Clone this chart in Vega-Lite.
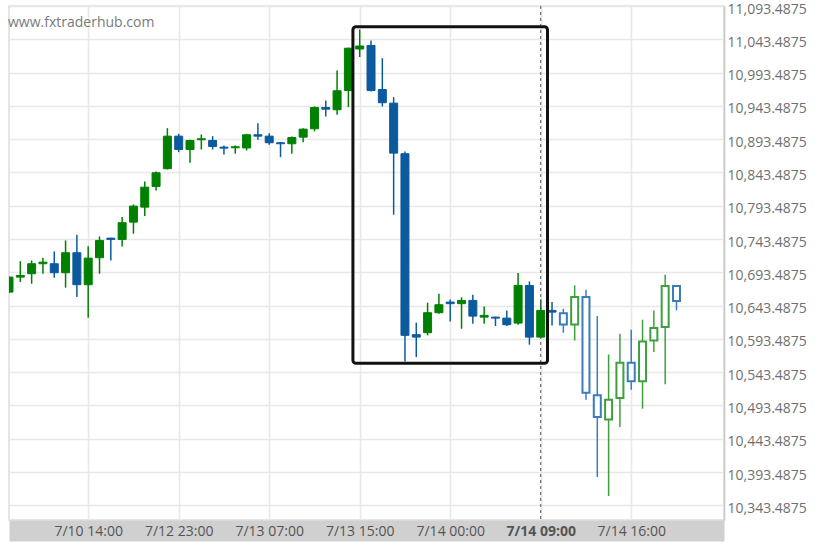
{
  "$schema": "https://vega.github.io/schema/vega-lite/v6.json",
  "width": 715,
  "height": 514,
  "autosize": {"type": "none"},
  "padding": {"left": 9, "top": 6, "right": 98, "bottom": 28},
  "background": "white",
  "title": {"text": "www.fxtraderhub.com", "anchor": "start", "frame": "group", "orient": "top", "offset": -39, "baseline": "alphabetic", "fontSize": 14, "fontWeight": "normal", "font": "Open Sans", "color": "#7a7a7a", "dx": -1},
  "config": {"view": {"stroke": "#dddddd", "strokeWidth": 1.5}},
  "resolve": {"axis": {"x": "independent"}},
  "datasets": {
    "candles": [
      {"i": 0, "o": 10663.8, "h": 10687.3, "l": 10662.6, "c": 10686.3, "k": "uf"},
      {"i": 1, "o": 10686.3, "h": 10710.3, "l": 10678.8, "c": 10688.8, "k": "uf"},
      {"i": 2, "o": 10691.4, "h": 10711.4, "l": 10676.4, "c": 10706.4, "k": "uf"},
      {"i": 3, "o": 10706.4, "h": 10715.4, "l": 10691.4, "c": 10708.8, "k": "uf"},
      {"i": 4, "o": 10706.4, "h": 10724.9, "l": 10685.4, "c": 10692.9, "k": "df"},
      {"i": 5, "o": 10692.9, "h": 10741.4, "l": 10670.4, "c": 10722.9, "k": "uf"},
      {"i": 6, "o": 10722.9, "h": 10749.9, "l": 10656.3, "c": 10674.9, "k": "df"},
      {"i": 7, "o": 10674.9, "h": 10732.8, "l": 10625.3, "c": 10714.8, "k": "uf"},
      {"i": 8, "o": 10715.4, "h": 10747.4, "l": 10691.4, "c": 10741.4, "k": "uf"},
      {"i": 9, "o": 10744.8, "h": 10745.3, "l": 10711.4, "c": 10742.9, "k": "df"},
      {"i": 10, "o": 10742.9, "h": 10776.4, "l": 10732.4, "c": 10768.0, "k": "uf"},
      {"i": 11, "o": 10768.9, "h": 10795.4, "l": 10751.5, "c": 10792.9, "k": "uf"},
      {"i": 12, "o": 10791.4, "h": 10830.0, "l": 10777.9, "c": 10821.4, "k": "uf"},
      {"i": 13, "o": 10822.5, "h": 10845.0, "l": 10816.5, "c": 10843.0, "k": "uf"},
      {"i": 14, "o": 10849.1, "h": 10910.0, "l": 10848.0, "c": 10898.0, "k": "uf"},
      {"i": 15, "o": 10898.0, "h": 10901.6, "l": 10874.0, "c": 10878.0, "k": "df"},
      {"i": 16, "o": 10878.0, "h": 10892.6, "l": 10858.1, "c": 10891.5, "k": "uf"},
      {"i": 17, "o": 10892.6, "h": 10900.6, "l": 10878.0, "c": 10894.1, "k": "uf"},
      {"i": 18, "o": 10891.5, "h": 10898.0, "l": 10878.0, "c": 10882.5, "k": "df"},
      {"i": 19, "o": 10881.5, "h": 10884.0, "l": 10870.5, "c": 10880.0, "k": "df"},
      {"i": 20, "o": 10880.6, "h": 10884.0, "l": 10871.6, "c": 10882.1, "k": "uf"},
      {"i": 21, "o": 10880.3, "h": 10901.6, "l": 10876.5, "c": 10900.1, "k": "uf"},
      {"i": 22, "o": 10900.1, "h": 10917.5, "l": 10892.6, "c": 10898.0, "k": "df"},
      {"i": 23, "o": 10898.0, "h": 10902.5, "l": 10885.1, "c": 10888.1, "k": "df"},
      {"i": 24, "o": 10888.1, "h": 10889.0, "l": 10866.5, "c": 10886.6, "k": "df"},
      {"i": 25, "o": 10886.6, "h": 10897.6, "l": 10871.6, "c": 10896.0, "k": "uf"},
      {"i": 26, "o": 10896.5, "h": 10910.0, "l": 10889.0, "c": 10908.5, "k": "uf"},
      {"i": 27, "o": 10909.1, "h": 10942.6, "l": 10905.1, "c": 10941.1, "k": "uf"},
      {"i": 28, "o": 10941.1, "h": 10951.6, "l": 10927.6, "c": 10938.5, "k": "df"},
      {"i": 29, "o": 10937.6, "h": 10996.7, "l": 10930.1, "c": 10966.2, "k": "uf"},
      {"i": 30, "o": 10966.6, "h": 11031.0, "l": 10941.5, "c": 11030.1, "k": "uf"},
      {"i": 31, "o": 11028.9, "h": 11058.2, "l": 11016.9, "c": 11033.4, "k": "uf"},
      {"i": 32, "o": 11034.2, "h": 11041.7, "l": 10965.1, "c": 10966.6, "k": "df"},
      {"i": 33, "o": 10968.1, "h": 11015.1, "l": 10942.6, "c": 10948.2, "k": "df"},
      {"i": 34, "o": 10947.6, "h": 10956.6, "l": 10780.0, "c": 10872.5, "k": "df"},
      {"i": 35, "o": 10871.6, "h": 10875.0, "l": 10559.7, "c": 10598.8, "k": "df"},
      {"i": 36, "o": 10599.8, "h": 10617.8, "l": 10566.2, "c": 10596.2, "k": "df"},
      {"i": 37, "o": 10602.8, "h": 10647.9, "l": 10598.8, "c": 10632.8, "k": "uf"},
      {"i": 38, "o": 10632.8, "h": 10661.4, "l": 10631.3, "c": 10644.8, "k": "uf"},
      {"i": 39, "o": 10648.8, "h": 10652.8, "l": 10619.8, "c": 10646.4, "k": "df"},
      {"i": 40, "o": 10646.4, "h": 10655.8, "l": 10608.8, "c": 10651.3, "k": "uf"},
      {"i": 41, "o": 10651.3, "h": 10659.9, "l": 10616.3, "c": 10627.7, "k": "df"},
      {"i": 42, "o": 10626.2, "h": 10642.3, "l": 10616.3, "c": 10628.8, "k": "uf"},
      {"i": 43, "o": 10626.2, "h": 10626.7, "l": 10612.7, "c": 10624.7, "k": "df"},
      {"i": 44, "o": 10624.7, "h": 10636.3, "l": 10612.7, "c": 10614.8, "k": "df"},
      {"i": 45, "o": 10617.2, "h": 10692.3, "l": 10614.8, "c": 10673.8, "k": "uf"},
      {"i": 46, "o": 10673.8, "h": 10679.8, "l": 10584.8, "c": 10596.2, "k": "df"},
      {"i": 47, "o": 10596.2, "h": 10652.8, "l": 10595.5, "c": 10636.3, "k": "uf"},
      {"i": 48, "o": 10636.3, "h": 10648.8, "l": 10613.8, "c": 10633.7, "k": "df"},
      {"i": 49, "o": 10632.2, "h": 10638.8, "l": 10602.8, "c": 10615.3, "k": "dh"},
      {"i": 50, "o": 10615.3, "h": 10673.8, "l": 10591.2, "c": 10656.3, "k": "uh"},
      {"i": 51, "o": 10656.3, "h": 10667.4, "l": 10502.2, "c": 10512.7, "k": "dh"},
      {"i": 52, "o": 10508.7, "h": 10627.7, "l": 10386.0, "c": 10476.1, "k": "dh"},
      {"i": 53, "o": 10472.6, "h": 10570.2, "l": 10357.5, "c": 10502.2, "k": "uh"},
      {"i": 54, "o": 10504.6, "h": 10601.3, "l": 10461.1, "c": 10557.8, "k": "uh"},
      {"i": 55, "o": 10557.8, "h": 10607.3, "l": 10517.2, "c": 10529.7, "k": "dh"},
      {"i": 56, "o": 10529.7, "h": 10622.3, "l": 10488.7, "c": 10589.7, "k": "uh"},
      {"i": 57, "o": 10591.2, "h": 10636.3, "l": 10573.7, "c": 10609.7, "k": "uh"},
      {"i": 58, "o": 10611.2, "h": 10689.9, "l": 10525.2, "c": 10672.8, "k": "uh"},
      {"i": 59, "o": 10672.8, "h": 10673.3, "l": 10636.3, "c": 10650.3, "k": "dh"}
    ],
    "box": [{"x1": 30.4, "x2": 47.6, "y1": 10557.0, "y2": 11062.5}],
    "marker": [{"i": 47}]
  },
  "layer": [
    {
      "data": {"name": "candles"},
      "mark": {"type": "rule", "strokeWidth": 1.5, "clip": true},
      "encoding": {
        "x": {
          "field": "i", "type": "quantitative",
          "scale": {"domain": [0, 63.2], "nice": false, "zero": false, "padding": 0},
          "axis": {
            "orient": "bottom",
            "title": null, "grid": false, "labels": false, "ticks": false, "tickSize": 0,
            "domain": true, "domainColor": "#d0d0d0", "domainWidth": 21, "offset": 10.5
          }
        },
        "y": {
          "field": "l", "type": "quantitative",
          "scale": {"domain": [10321.4875, 11093.4875], "nice": false, "zero": false},
          "axis": {
            "orient": "right", "tickCount": 30,
            "values": [10343.4875, 10393.4875, 10443.4875, 10493.4875, 10543.4875, 10593.4875, 10643.4875, 10693.4875, 10743.4875, 10793.4875, 10843.4875, 10893.4875, 10943.4875, 10993.4875, 11043.4875, 11093.4875],
            "format": ",.4f", "title": null, "grid": true, "gridColor": "#e8e8e8", "gridWidth": 1.5,
            "ticks": false, "tickSize": 0, "domainColor": "#c8c8c8", "domainWidth": 1.5,
            "labelPadding": 3, "labelFont": "Open Sans", "labelFontSize": 14, "labelColor": "#707070",
            "labelBaseline": "middle", "labelOffset": 3, "labelFlush": false, "labelOverlap": false
          }
        },
        "y2": {"field": "h"},
        "color": {"field": "k", "type": "nominal", "scale": {"domain": ["uf", "df", "uh", "dh"], "range": ["#008000", "#0c5a9e", "#3f9f3f", "#3b7bbf"]}, "legend": null}
      }
    },
    {
      "data": {"name": "marker"},
      "mark": {"type": "rule", "strokeDash": [3, 3], "color": "#555555", "strokeWidth": 1},
      "encoding": {
        "x": {"field": "i", "type": "quantitative", "axis": null}
      }
    },
    {
      "data": {"name": "candles"},
      "mark": {"type": "bar", "clip": true},
      "encoding": {
        "x": {
          "field": "i", "type": "quantitative",
          "axis": {
            "orient": "bottom",
            "values": [7, 15, 23, 31, 39, 47, 55], "tickCount": 20,
            "labelExpr": "datum.value==7?'7/10 14:00':datum.value==15?'7/12 23:00':datum.value==23?'7/13 07:00':datum.value==31?'7/13 15:00':datum.value==39?'7/14 00:00':datum.value==47?'7/14 09:00':'7/14 16:00'",
            "title": null, "grid": true, "gridColor": "#e8e8e8", "gridWidth": 1.5,
            "ticks": false, "tickSize": 0, "domain": false,
            "labelPadding": 11, "labelBaseline": "middle",
            "labelFont": "Open Sans", "labelFontSize": 14, "labelColor": "#555555",
            "labelFontWeight": {"condition": {"test": "datum.value == 47", "value": "bold"}, "value": "normal"},
            "labelFlush": false, "labelOverlap": false
          }
        },
        "y": {"field": "o", "type": "quantitative"},
        "y2": {"field": "c"},
        "size": {"condition": {"test": "datum.k=='uh'||datum.k=='dh'", "value": 7}, "value": 8},
        "strokeWidth": {"condition": {"test": "datum.k=='uh'||datum.k=='dh'", "value": 2}, "value": 1},
        "fill": {"condition": {"test": "datum.k=='uh'||datum.k=='dh'", "value": "#ffffff"}, "field": "k", "type": "nominal", "scale": {"domain": ["uf", "df", "uh", "dh"], "range": ["#008000", "#0c5a9e", "#3f9f3f", "#3b7bbf"]}, "legend": null},
        "stroke": {"field": "k", "type": "nominal", "scale": {"domain": ["uf", "df", "uh", "dh"], "range": ["#008000", "#0c5a9e", "#3f9f3f", "#3b7bbf"]}, "legend": null}
      }
    },
    {
      "data": {"name": "box"},
      "mark": {"type": "rect", "filled": false, "stroke": "#111111", "strokeWidth": 3, "cornerRadius": 3},
      "encoding": {
        "x": {"field": "x1", "type": "quantitative", "axis": null},
        "x2": {"field": "x2"},
        "y": {"field": "y1", "type": "quantitative"},
        "y2": {"field": "y2"}
      }
    }
  ]
}
